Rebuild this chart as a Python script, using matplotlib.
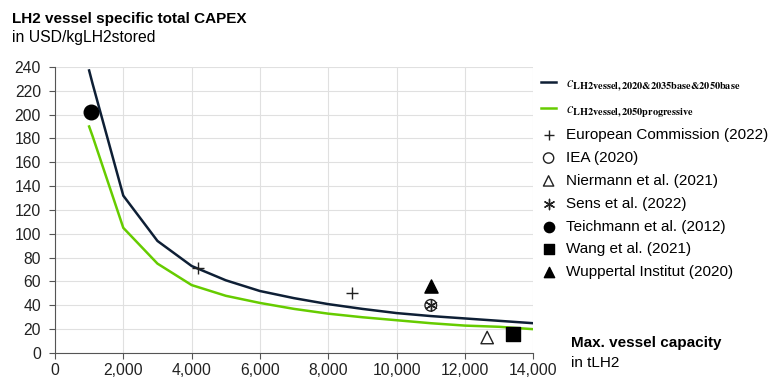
import numpy as np
import matplotlib.pyplot as plt
from matplotlib.ticker import FuncFormatter

plt.rcParams['font.family'] = ['Liberation Sans', 'DejaVu Sans']
plt.rcParams['mathtext.fontset'] = 'stix'

# model curves
cap = [1000, 1100, 2000, 3000, 4000, 5000, 6000, 7000, 8000, 9000, 10000, 11000, 12000, 13000, 14000]
base = [237, 226, 132, 94, 73, 61, 52, 46, 41, 37, 33.5, 31, 29, 27, 25]
prog = [190, 182, 105, 75, 57, 48, 42, 37, 33, 30, 27.5, 25, 23, 22, 20]

# literature values
ec_x, ec_y = [4200, 8700], [71, 50]
iea_x, iea_y = [11000], [40]
nier_x, nier_y = [12650], [13]
sens_x, sens_y = [11000], [40]
teich_x, teich_y = [1050], [202]
wang_x, wang_y = [13400], [16]
wup_x, wup_y = [11000], [56]

fig = plt.figure(figsize=(7.74, 3.8), dpi=100)
ax = fig.add_axes([0.071, 0.071, 0.618, 0.753])

ax.plot(cap, base, color='#0e1f35', lw=1.8,
        label=r'$c_{\mathbf{LH2vessel,2020&2035base&2050base}}$')
ax.plot(cap, prog, color='#66cc00', lw=1.8,
        label=r'$c_{\mathbf{LH2vessel,2050progressive}}$')
ax.scatter(ec_x, ec_y, marker='+', s=70, color='#222222', lw=1, label='European Commission (2022)', zorder=3)
ax.scatter(iea_x, iea_y, marker='o', s=70, facecolors='none', edgecolors='#222222', lw=1, label='IEA (2020)', zorder=3)
ax.scatter(nier_x, nier_y, marker='^', s=80, facecolors='none', edgecolors='#222222', lw=1, label='Niermann et al. (2021)', zorder=3)
ax.scatter(sens_x, sens_y, marker=(6, 2, 0), s=70, color='#222222', lw=1, label='Sens et al. (2022)', zorder=3)
ax.scatter(teich_x, teich_y, marker='o', s=110, color='black', label='Teichmann et al. (2012)', zorder=3)
ax.scatter(wang_x, wang_y, marker='s', s=110, color='black', label='Wang et al. (2021)', zorder=3)
ax.scatter(wup_x, wup_y, marker='^', s=90, color='black', label='Wuppertal Institut (2020)', zorder=3)

ax.set_xlim(0, 14000)
ax.set_ylim(0, 240)
ax.set_xticks(np.arange(0, 14001, 2000))
ax.set_yticks(np.arange(0, 241, 20))
ax.xaxis.set_major_formatter(FuncFormatter(lambda v, p: f'{int(v):,}'))
ax.grid(True, color='#e0e0e0', lw=0.8)
ax.set_axisbelow(True)
for s in ['top', 'right']:
    ax.spines[s].set_visible(False)
for s in ['left', 'bottom']:
    ax.spines[s].set_color('#555555')
ax.tick_params(axis='both', labelsize=11.3, color='#555555', labelcolor='#222222', length=4)
ax.tick_params(axis='y', pad=6)
ax.tick_params(axis='x', pad=3)

fig.text(0.015, 0.95, 'LH2 vessel specific total CAPEX', fontsize=11, fontweight='bold', va='center')
fig.text(0.015, 0.902, 'in USD/kgLH2stored', fontsize=11.3, va='center')
fig.text(0.738, 0.097, 'Max. vessel capacity', fontsize=11, fontweight='bold', va='center')
fig.text(0.738, 0.045, 'in tLH2', fontsize=11, va='center')

leg = fig.legend(loc='upper left', bbox_to_anchor=(0.691, 0.815), frameon=False, fontsize=11,
                 handlelength=1.0, handletextpad=0.62, labelspacing=0.58, borderaxespad=0)
for t in leg.get_texts()[:2]:
    t.set_fontsize(10.5)
for h in leg.legend_handles[2:]:
    h.set_sizes([55])

fig.savefig('out.png', dpi=100)
